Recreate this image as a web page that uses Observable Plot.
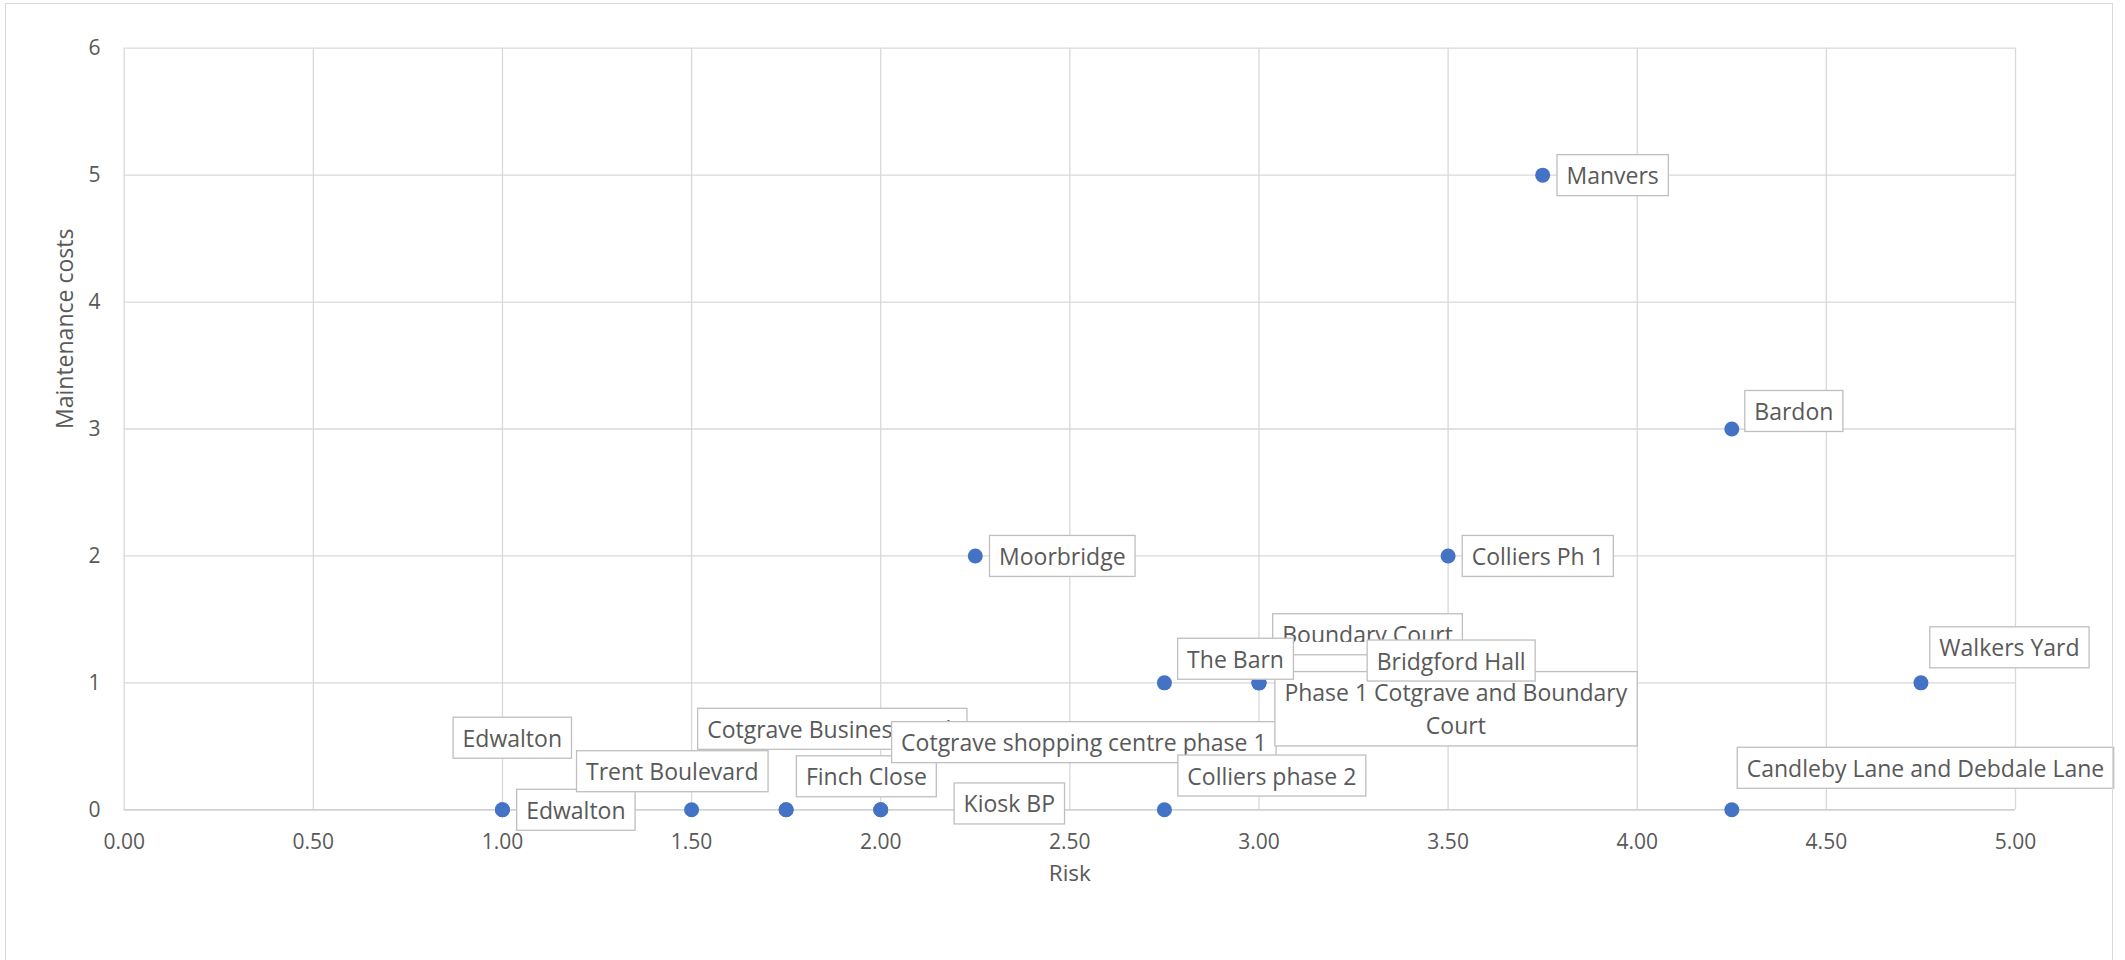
<!DOCTYPE html>
<html>
<head>
<meta charset="utf-8">
<script src="https://cdn.jsdelivr.net/npm/d3@7"></script>
<script src="https://cdn.jsdelivr.net/npm/@observablehq/plot@0.6"></script>
<style>
html, body { margin: 0; padding: 0; background: #fff; overflow: hidden; }
#wrap { position: relative; width: 2125px; height: 960px; }
#border { position: absolute; left: 5.3px; top: 2.8px; width: 2107.5px; height: 1000px; border: 1.3px solid #d9d9d9; box-sizing: border-box; pointer-events: none; }
</style>
</head>
<body>
<div id="wrap"><div id="chart"></div><div id="border"></div></div>
<script>
// ---- data ----
const names = [
  "Edwalton", "Edwalton", "Trent Boulevard", "Cotgrave Business Park", "Finch Close",
  "Cotgrave shopping centre phase 1", "Kiosk BP", "Colliers phase 2",
  "Candleby Lane and Debdale Lane", "Moorbridge", "Colliers Ph 1", "Boundary Court",
  "Phase 1 Cotgrave and Boundary\nCourt", "The Barn", "Bridgford Hall", "Walkers Yard",
  "Bardon", "Manvers"
];
const risk  = [1.00, 1.00, 1.50, 1.75, 1.75, 2.00, 2.00, 2.75, 4.25, 2.25, 3.50, 3.00, 3.00, 2.75, 3.00, 4.75, 4.25, 3.75];
const costs = [0, 0, 0, 0, 0, 0, 0, 0, 0, 2, 2, 1, 1, 1, 1, 1, 3, 5];
const xTicks = [0, 0.5, 1, 1.5, 2, 2.5, 3, 3.5, 4, 4.5, 5];
const yTicks = [0, 1, 2, 3, 4, 5, 6];
const xTitle = "Risk";
const yTitle = "Maintenance costs";

// ---- layout: where each (manually moved) data label box is centred, in data units ----
const labelPlacement = [
  [1.026, 0.568], [1.194, 0.000], [1.449, 0.304], [1.872, 0.638], [1.962, 0.264],
  [2.537, 0.533], [2.340, 0.050], [3.034, 0.270], [4.762, 0.331], [2.480, 2.000],
  [3.737, 2.000], [3.287, 1.383], [3.521, 0.796], [2.938, 1.190], [3.508, 1.176],
  [4.984, 1.280], [4.414, 3.142], [3.935, 5.000]
];
const clippedLabels = new Set(["Boundary Court"]);

const rows = names.map((n, i) => ({
  name: n, risk: risk[i], cost: costs[i],
  lx: labelPlacement[i][0], ly: labelPlacement[i][1]
}));

const FONT = "'Open Sans', sans-serif";
const GREY = "#595959";

const chart = Plot.plot({
  width: 2125,
  height: 960,
  marginLeft: 123.7,
  marginRight: 110,
  marginTop: 47.7,
  marginBottom: 150.7,
  style: { fontFamily: FONT, background: "transparent", color: GREY },
  x: { domain: [0, 5] },
  y: { domain: [0, 6] },
  marks: [
    Plot.gridX(xTicks, { stroke: "#d9d9d9", strokeOpacity: 1, strokeWidth: 1.3 }),
    Plot.gridY(yTicks, { stroke: "#d9d9d9", strokeOpacity: 1, strokeWidth: 1.3 }),
    Plot.ruleY([0], { stroke: "#cdcdcd", strokeWidth: 1.3 }),
    Plot.axisX(xTicks, { tickSize: 0, tickPadding: 24.4, tickFormat: d3.format(".2f"), fontSize: 21, fill: GREY, label: null }),
    Plot.axisY(yTicks, { tickSize: 0, tickPadding: 23.7, tickFormat: d3.format("d"), fontSize: 21, fill: GREY, label: null }),
    Plot.text([xTitle], { text: d => d, frameAnchor: "bottom", dy: 71, fontSize: 22.5, fill: GREY }),
    Plot.text([yTitle], { text: d => d, frameAnchor: "left", dx: -58.7, rotate: -90, fontSize: 23, fill: GREY }),
    Plot.dot(rows, { x: "risk", y: "cost", r: 7.5, fill: "#4472C4" }),
    Plot.text(rows, { x: "lx", y: "ly", text: "name", fontSize: 23, fill: GREY, lineHeight: 1.45, textAnchor: "middle" })
  ]
});
document.getElementById("chart").appendChild(chart);

// ---- draw Excel-style label boxes behind each data label ----
const labelTexts = new Set(names.map(n => n.replace(/\n/g, "")));
const NS = "http://www.w3.org/2000/svg";
const padX = 9.5, padY = 4.5;
chart.querySelectorAll("text").forEach(t => {
  const content = t.textContent;
  if (!labelTexts.has(content)) return;
  const bb = t.getBBox();
  const sx = -(bb.x + bb.width / 2);
  const sy = -(bb.y + bb.height / 2);
  const base = t.getAttribute("transform") || "";
  const tf = `${base} translate(${sx},${sy})`;
  t.setAttribute("transform", tf);
  const r = document.createElementNS(NS, "rect");
  r.setAttribute("x", bb.x - padX);
  r.setAttribute("y", bb.y - padY);
  r.setAttribute("width", bb.width + 2 * padX);
  r.setAttribute("height", bb.height + 2 * padY);
  r.setAttribute("fill", "#ffffff");
  r.setAttribute("stroke", "#bfbfbf");
  r.setAttribute("stroke-width", "1.3");
  r.setAttribute("transform", tf);
  t.parentNode.insertBefore(r, t);
  if (clippedLabels.has(content)) {
    const c = document.createElementNS(NS, "rect");
    const cutY = bb.y + bb.height * 0.74;
    c.setAttribute("x", bb.x - padX + 0.8);
    c.setAttribute("y", cutY);
    c.setAttribute("width", bb.width + 2 * padX - 1.6);
    c.setAttribute("height", (bb.y + bb.height + padY - 0.8) - cutY);
    c.setAttribute("fill", "#ffffff");
    c.setAttribute("transform", tf);
    t.parentNode.insertBefore(c, t.nextSibling);
  }
});
</script>
</body>
</html>
